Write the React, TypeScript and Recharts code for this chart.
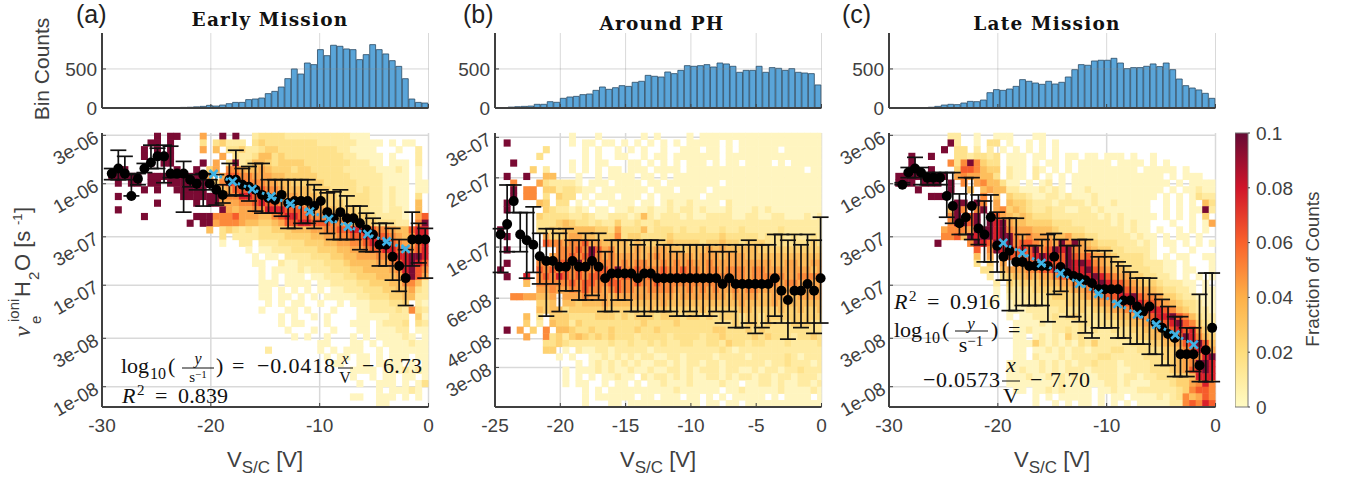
import { Bar, BarChart, CartesianGrid, ErrorBar, ReferenceLine, Scatter, ScatterChart, XAxis, YAxis } from 'recharts'

const AXIS = '#404040'
const GRID = '#d9d9d9'
const SANS = '"Liberation Sans", Arial, sans-serif'
const SERIF = '"Liberation Serif", serif'
const LEVEL_COLORS = ['#ffffff', '#fff5c0', '#ffeba2', '#fee28c', '#fed272', '#fdbf5d', '#fda84c', '#fc8a3a', '#f65c2b', '#d9202a', '#7a0a33']

const HIST_A = [0, 0, 0, 0, 0, 0, 0, 0, 0, 0, 2, 2, 8, 10, 15, 21, 34, 25, 38, 55, 72, 72, 107, 115, 128, 184, 213, 269, 376, 500, 435, 576, 555, 747, 670, 803, 790, 756, 747, 619, 683, 811, 747, 692, 606, 533, 375, 115, 72, 64]
const HIST_B = [2, 5, 12, 17, 21, 25, 47, 47, 81, 73, 124, 141, 149, 171, 179, 226, 269, 239, 260, 286, 277, 329, 342, 418, 406, 397, 461, 440, 482, 542, 534, 542, 555, 525, 576, 564, 534, 457, 482, 482, 534, 457, 517, 508, 482, 504, 457, 448, 440, 295]
const HIST_C = [0, 0, 0, 0, 0, 0, 10, 21, 38, 47, 43, 64, 85, 81, 102, 196, 235, 226, 243, 277, 363, 342, 320, 303, 342, 307, 329, 397, 491, 555, 547, 602, 611, 611, 636, 576, 504, 517, 517, 534, 564, 530, 576, 491, 371, 286, 256, 231, 188, 124]

const X_A = [-29.1, -28.5, -27.9, -27.3, -26.7, -26.1, -25.5, -24.9, -24.3, -23.7, -23.1, -22.5, -21.9, -21.3, -20.7, -20.1, -19.5, -18.9, -18.3, -17.7, -17.1, -16.5, -15.9, -15.3, -14.7, -14.1, -13.5, -12.9, -12.3, -11.7, -11.1, -10.5, -9.9, -9.3, -8.7, -8.1, -7.5, -6.9, -6.3, -5.7, -5.1, -4.5, -3.9, -3.3, -2.7, -2.1, -1.5, -0.9, -0.3]
const MID_A = [-5.9, -5.85, -5.9, -6.12, -5.95, -5.85, -5.79, -5.73, -5.73, -5.9, -5.9, -5.9, -5.96, -6, -5.91, -6, -6.06, -6.11, -5.96, -5.96, -6.01, -6.03, -6.06, -6.11, -6.14, -6.16, -6.11, -6.19, -6.17, -6.17, -6.17, -6.22, -6.17, -6.28, -6.34, -6.28, -6.34, -6.34, -6.39, -6.45, -6.5, -6.6, -6.6, -6.72, -6.81, -6.93, -6.55, -6.55, -6.55]
const HI_A = [-5.85, -5.67, -5.73, -5.91, -5.9, -5.8, -5.62, -5.65, -5.62, -5.63, -5.88, -5.78, -5.91, -5.96, -5.9, -5.96, -5.91, -6.01, -5.8, -5.67, -5.85, -5.83, -5.8, -5.8, -5.96, -5.96, -5.96, -5.96, -5.96, -5.96, -5.96, -6.01, -6.06, -6.09, -6.08, -6.06, -6.12, -6.22, -6.22, -6.29, -6.34, -6.39, -6.39, -6.44, -6.55, -6.65, -6.28, -6.39, -6.44]
const LO_A = [-5.96, -5.96, -5.96, -6.12, -6.01, -5.89, -5.85, -5.85, -5.99, -5.94, -5.93, -6.28, -6.03, -6.06, -6.22, -6.06, -6.21, -6.19, -6.12, -6.11, -6.12, -6.17, -6.27, -6.29, -6.29, -6.29, -6.32, -6.44, -6.44, -6.39, -6.39, -6.44, -6.37, -6.49, -6.55, -6.55, -6.55, -6.55, -6.65, -6.67, -6.67, -6.81, -6.81, -6.95, -7.06, -7.2, -6.81, -6.78, -6.93]

const X_B = [-24.57, -24.07, -23.57, -23.07, -22.57, -22.07, -21.57, -21.07, -20.57, -20.07, -19.57, -19.07, -18.57, -18.07, -17.57, -17.07, -16.57, -16.07, -15.57, -15.07, -14.57, -14.07, -13.57, -13.07, -12.57, -12.07, -11.57, -11.07, -10.57, -10.07, -9.57, -9.07, -8.57, -8.07, -7.57, -7.07, -6.57, -6.07, -5.57, -5.07, -4.57, -4.07, -3.57, -3.07, -2.57, -2.07, -1.57, -1.07, -0.57, -0.07]
const MID_B = [-6.945, -6.9, -6.8, -6.945, -6.97, -6.99, -7.04, -7.06, -7.06, -7.085, -7.085, -7.06, -7.085, -7.085, -7.06, -7.085, -7.135, -7.115, -7.115, -7.115, -7.115, -7.135, -7.115, -7.115, -7.135, -7.135, -7.135, -7.135, -7.135, -7.135, -7.135, -7.135, -7.135, -7.135, -7.16, -7.135, -7.16, -7.16, -7.16, -7.16, -7.16, -7.16, -7.135, -7.19, -7.23, -7.19, -7.19, -7.16, -7.19, -7.135]
const HI_B = [-6.92, -6.73, -6.73, -6.85, -6.85, -6.825, -6.94, -6.92, -6.92, -6.94, -6.92, -6.97, -6.97, -6.94, -6.97, -6.94, -7.02, -6.97, -6.97, -6.97, -6.97, -6.99, -6.97, -6.97, -6.97, -6.99, -6.99, -7.02, -6.99, -6.99, -6.99, -6.99, -6.99, -7.02, -6.99, -7.02, -6.99, -6.99, -6.97, -6.99, -6.99, -6.99, -6.945, -6.945, -6.97, -6.945, -6.99, -6.945, -6.97, -6.87]
const LO_B = [-7.11, -7.02, -6.85, -7.02, -7.135, -7.11, -7.16, -7.3, -7.16, -7.28, -7.19, -7.19, -7.23, -7.23, -7.21, -7.23, -7.28, -7.28, -7.23, -7.23, -7.28, -7.28, -7.3, -7.28, -7.28, -7.28, -7.28, -7.3, -7.3, -7.28, -7.3, -7.3, -7.3, -7.28, -7.33, -7.28, -7.35, -7.35, -7.33, -7.375, -7.35, -7.33, -7.3, -7.33, -7.4, -7.33, -7.35, -7.33, -7.375, -7.33]

const X_C = [-28.77, -28.22, -27.61, -27.06, -26.47, -25.92, -25.31, -24.69, -24.14, -23.53, -22.94, -22.39, -21.78, -21.23, -20.64, -20.06, -19.48, -18.93, -18.31, -17.73, -17.12, -16.56, -15.95, -15.4, -14.82, -14.23, -13.65, -13.04, -12.52, -11.96, -11.35, -10.74, -10.18, -9.57, -8.96, -8.44, -7.83, -7.21, -6.66, -6.07, -5.52, -4.91, -4.36, -3.74, -3.22, -2.64, -2.03, -1.47, -0.89, -0.31]
const MID_C = [-6.01, -5.89, -5.85, -5.89, -5.94, -5.94, -5.94, -6.12, -6.22, -6.39, -6.33, -6.22, -6.44, -6.5, -6.33, -6.61, -6.72, -6.66, -6.77, -6.77, -6.81, -6.81, -6.81, -6.81, -6.72, -6.82, -6.88, -6.91, -6.93, -6.95, -6.98, -7.04, -7.04, -7.04, -7.04, -7.15, -7.15, -7.21, -7.26, -7.21, -7.37, -7.42, -7.48, -7.52, -7.68, -7.68, -7.68, -7.79, -7.64, -7.42]
const HI_C = [-5.99, -5.84, -5.74, -5.84, -5.89, -5.89, -5.89, -5.89, -5.89, -6.1, -5.94, -5.94, -6.11, -6.17, -6.11, -6.28, -6.34, -6.34, -6.34, -6.5, -6.61, -6.61, -6.55, -6.5, -6.49, -6.55, -6.61, -6.61, -6.55, -6.55, -6.66, -6.72, -6.66, -6.72, -6.77, -6.81, -6.87, -6.93, -6.93, -6.93, -7.09, -7.14, -7.21, -7.31, -7.31, -7.42, -7.42, -7.09, -6.88, -6.88]
const LO_C = [-6.01, -5.94, -5.94, -6.01, -6.01, -6.01, -6.01, -6.33, -6.39, -6.5, -6.5, -6.55, -6.6, -6.77, -6.77, -6.87, -6.95, -7.25, -7.25, -7.2, -7.2, -7.2, -7.2, -7.36, -7.09, -7.06, -7.31, -7.31, -7.36, -7.47, -7.52, -7.42, -7.42, -7.42, -7.52, -7.52, -7.58, -7.58, -7.58, -7.68, -7.68, -7.79, -7.79, -7.9, -7.9, -7.9, -7.85, -7.95, -7.95, -7.95]

const FIT_X_A = [-19.75, -18, -16.2, -14.45, -12.7, -10.9, -9.15, -7.4, -5.6, -3.85, -2.1]
const FIT_Y_A = [-5.904, -5.978, -6.053, -6.126, -6.199, -6.274, -6.348, -6.421, -6.496, -6.569, -6.642]
const FIT_X_C = [-19.5, -17.75, -16, -14.25, -12.5, -10.75, -9, -7.2, -5.45, -3.7, -2]
const FIT_Y_C = [-6.583, -6.683, -6.783, -6.883, -6.984, -7.084, -7.184, -7.287, -7.388, -7.488, -7.585]

const TICKS_AC = [-5.523, -6, -6.523, -7, -7.523, -8]
const LABELS_AC = ['3e-06', '1e-06', '3e-07', '1e-07', '3e-08', '1e-08']
const TICKS_B = [-6.523, -6.699, -7, -7.222, -7.398, -7.523]
const LABELS_B = ['3e-07', '2e-07', '1e-07', '6e-08', '4e-08', '3e-08']
const XTICKS_AC = [-30, -20, -10, 0]
const XTICKS_B = [-25, -20, -15, -10, -5, 0]
const CB_TICKS = [0, 0.02, 0.04, 0.06, 0.08, 0.1]

// heat cells, top row first, '.' empty, 1-9 and a = fraction in hundredths
const HEAT_A = [
  '........a. aa...6..a. a..2333322 2222222211 1.........',
  '.......aa. a....3.342 22.3433333 3332222221 111.1.11..',
  '......a.a. a....6.5.3 3422344333 3333332211 11...1..2.',
  '......a..a a.......6. 3223553433 3333333221 111.1...2.',
  '.......a.a a....a.6.3 a235543444 4333333322 211.111.2.',
  '...a...... .a..a.46.7 7655654443 4433333222 2211121.1.',
  '.aaaaa.aaa aaaaaa6.68 8776665544 4443333322 2221111.1.',
  '..a.aa.aa. aaaaaa.479 8877766554 4444333332 2221111.11',
  '......a.a. .aaaaa.a56 8888877655 5544433332 3221211.11',
  '..a....... ..aaaaaa67 7998887666 5554443333 3221211.3.',
  '........a. ....a.aa66 6778988777 6655444333 3221211.5.',
  '..a....... ........a6 5667799988 8766554443 3221221.5.',
  '......a... ....aaa777 8666557899 8877765544 4322221.68',
  '.......... ...a.aa677 7655445688 9988877654 4433322.7a',
  '.......... ......5.34 3232334445 5566778899 9877655899',
  '.......... ........3. 2222333344 4455667788 9988765799',
  '.......... ........1. .22.222333 3444556677 8998876689',
  '.......... .......... ..1.112223 3334445566 7889988789',
  '.......... .......... ...1.11.22 2233344556 6677899aa9',
  '.......... .......... ...11..211 2222333455 5566789a98',
  '.......... .......... ....1.1111 2122233344 5555679a87',
  '.......... .......... ....1.1.11 1.11222334 4455568a86',
  '.......... .......... ....111.11 11.1122223 3444557752',
  '.......... .......... ....11.1.1 .1.1.11222 3334455632',
  '.......... .......... ....11.11. 1.1.111112 2333445522',
  '.......... .......... .....1.1.1 1..1..1.11 1222334.21',
  '.......... .......... ....1...11 .1...1...1 1222232732',
  '.......... .......... .......1.1 ..1.1....1 1111222.41',
  '.......... .......... .......1.1 1...1...11 1.12223.32',
  '.......... .......... ........1. ..1..1...1 1.11122.11',
  '.......... .......... .........1 .1..1...1. 1.111121.1',
  '.......... .......... .......... ...11...11 .1.1111211',
  '.......... .......... .....2.... ...1.1.111 ..1.111111',
  '.......... .......... .......... ....1.11.1 1.1.111.11',
  '.......... .......... .......... .....11..1 1.1111.1.1',
  '.......... .......... .......... ........11 11.1112121',
  '.......... .......... .......... ........1. .1.11.11.1',
  '.......... .......... .......... .........1 ..111.1.13',
  '.......... .......... .......... .......... ..1.11121.',
  '.......... .......... .......... ........11 ..111.1.1.',
  '.......... .......... .......... .......... ..11......',
]

const HEAT_B = [
  '.......... .1...1.... ..1.1....1 .111111111 1111111111',
  '.a........ .1.11.11.1 .1.1.1.1.1 1111.1.111 1111111111',
  '.......3.. ...1.1..1. 1.1..1..11 1.11.1.111 111.111111',
  '......3... ...1.1..11 ..1.11.111 1111.11111 1111111111',
  '..a....... .1.1.11... 11.1.1.1.1 11.1.11.11 11.1.11111',
  '.....4.2.. .1.1.1.11. 111.1111.1 1111111111 1111111.11',
  '.a..a..55. ..1..1.111 1.11.1.111 1111111111 1111111111',
  '..7...6322 221.111.11 11.11.1111 1111.11111 1111111111',
  '..a.77.442 33211.1111 111.111.11 11.1111111 1111111111',
  '..a.77.3.4 33.1.111.1 11.1.11111 1.11111111 1111111111',
  '.a....54.3 3.1.1..111 1.11.12112 1111.21111 1111111111',
  '.a.....432 2121.11.11 2112112122 1211121112 1211111111',
  '......4333 3223211222 1252122212 1122221122 1122111212',
  '......3334 5433232242 2322322222 2222222222 2222222222',
  'a.....3344 5555544363 3352333232 2322322322 2223222222',
  '.a.....644 5665544473 4433334333 3333433333 2333232232',
  '.......877 6778665555 4544445444 4344544344 4333333343',
  '.a.......7 7787a86755 5655665545 5565655555 4444444444',
  '......6.67 7878a76766 6656766666 5666566655 5555555555',
  '.a....7768 87a7777767 6776676767 6676666666 6655665566',
  'a.....8787 87877887a7 7877787787 7677677767 7666666656',
  '.a..9.7879 8787887878 8778887878 7777777767 7777667777',
  '....5.7777 7878877887 7877877777 7777677777 6776776666',
  '......6676 6778776787 7667777667 6767667677 6666667666',
  '..7766556. 6667666566 6666666566 6666656666 5566656666',
  '......445. 5545556555 5555565555 5555555655 5565555555',
  '......5455 3444445444 4445454444 4544444554 4445445445',
  '....5.3.44 4333344434 3444344434 4343444344 3444444444',
  '....4.2.54 4243333333 3343333433 3333334344 3433344433',
  '.a.6.4.7.5 5433433433 3433433333 3334433343 4333333333',
  '....6..734 2454343433 3233332333 3233433334 3433323343',
  '.......334 3222222322 3223232233 2233243323 3222322223',
  '.......44. 1.21122122 2221222222 2222321222 2222222222',
  '.........1 .1..112121 2122112212 2221222212 2222321222',
  '.......... ..1.121212 1211221212 2122122222 2122322212',
  '.......... 1.11121211 2112112212 1222122112 1221223222',
  '.......... 1.1.1.1121 1.21221212 1122121221 2212212221',
  '.......... 1.11..1.11 .1.1121112 1111211.11 2212112212',
  '.......... ...1.1.111 1111111211 1111.11211 1112111121',
  '.......... ...1.11111 1.11.111.1 1.1.1.1111 1.1.1111.1',
  '.......... ...1...11. 1111111111 1.11.11.11 1111111111',
]

const HEAT_C = [
  '.........2 2..1..111. ..11...... .......... ..........',
  '.........a 2..1.33.1. .1.1.1.... .......... ..........',
  '........a. 33.2.2.1.1 .1.1.1.... .......... ..........',
  '...a..a... 3323323.11 1.11.1.11. 11.111.1.. 1.........',
  '...a.....7 37a7433.11 1.1.11.1.1 1111.1111. 1.1.......',
  '...a..a... 4887544.21 1.21.1.1.1 11111111.1 1111.1....',
  '.aaaaaaaa. 6766553.21 1.2.1.1.11 1111111111 11.1.111..',
  '.aaa.aaa.a .7.6755311 .1.12.1.11 1111111111 111.1.1111',
  '....a....a ..5.565522 1112121.11 2111111111 11.1.11211',
  '......aaa. ....7.5.43 3211221211 1211111111 1.1.1.1322',
  '.......... aa.a7.6.54 4322212222 1211211111 ..1.1.1.53',
  '.........5 a7.7a.6745 4322322112 2121111111 ..1.1.11a2',
  '.........7 a.8a.a8654 5433322222 2212121111 1.1.1.1.4.',
  '.........7 aa8a.a9a65 5444433322 2222121211 ...1..1.16',
  '........67 776aaa9a76 6655543333 2222221211 .1..1.1.1.',
  '........77 85a9aa9aa7 6766655644 3322222121 1.1.11.1..',
  '.......a.. ..7a98a9a7 887676a7a6 5433322212 1.11.1.1.1',
  '.......... ...8.7a9a8 98a78a9a76 6544332222 1..1..1...',
  '.......... ...5.6.788 889a998a87 8665433332 1.1.11..11',
  '.......... ...3.4.6.8 6889988a9a 9765443332 2211.1...1',
  '.......... ....33.566 6778898a99 a876554333 2211.11..1',
  '.......... .....2.345 5656678889 9a98766443 3221.1.1.1',
  '.......... ......2.43 4445556677 89a9887654 4322211.1.',
  '.......... ......1.32 3344445566 78889a8766 5433221.11',
  '.......... ......1.22 2333344445 6678899a87 7644322111',
  '.......... .....1..12 2232333444 4566788998 8765433211',
  '.......... ........11 1222223334 3445667889 9987543221',
  '.......... ........1. 1122232343 3334455677 899a875322',
  '.......... .........1 1112122223 3233344556 7889a87432',
  '.......... .........1 1211122323 2322333445 5678989643',
  '.......... .........1 1.12121423 2222233344 55678a9754',
  '.......... .........1 1142121213 2422222333 4455689a85',
  '.......... .........1 1.11212122 1222332233 33445789a6',
  '.......... .........1 1.21112122 2233222223 334456779a',
  '.......... ........11 1112121212 2322212222 3334567aa9',
  '.......... ........11 2112121222 1222211222 33345689a9',
  '.......... ........11 1211212121 1122212212 2333445999',
  '.......... ........11 1111112111 1112212111 2223446797',
  '.......... .........1 1.11212111 1.11211122 2222347887',
  '.......... .......... ..1.1.1111 1.1.11.111 1212375687',
  '.......... .......... ..1..1.1.1 1.1.1.1.11 1112278798',
]

const PLOT_RIGHT = 396.5

const buildCells = (rows: string[], x0: number, dx: number, top: number, bottom: number) =>
  rows.flatMap((row, r) =>
    [...row.replace(/ /g, '')].flatMap((ch, c) =>
      ch === '.' ? [] : [{ x: x0 + dx * c, y: top - ((r + 0.5) * (top - bottom)) / rows.length, level: ch === 'a' ? 10 : Number(ch) }],
    ),
  )

const buildPoints = (xs: number[], mids: number[], his: number[], los: number[]) =>
  xs.map((x, i) => ({ x, y: mids[i], err: [mids[i] - los[i], his[i] - mids[i]] }))

const HeatCell = (props: any) => (
  <rect x={props.cx - 3.5} y={props.cy - 3.6} width={Math.max(0, Math.min(7, PLOT_RIGHT - props.cx + 3.5))} height={7.2} fill={LEVEL_COLORS[props.payload.level]} />
)
const Dot = (props: any) => <circle cx={props.cx} cy={props.cy} r={5} fill="#000" />
const Cross = (props: any) => (
  <path
    d={`M${props.cx - 4} ${props.cy - 4}L${props.cx + 4} ${props.cy + 4}M${props.cx - 4} ${props.cy + 4}L${props.cx + 4} ${props.cy - 4}`}
    stroke="#3fb3e6"
    strokeWidth={2.6}
    fill="none"
  />
)

function Hist({ left, data, x0, dx, domain, ticks }: any) {
  const rows = data.map((v: number, i: number) => ({ x: x0 + dx * i, v }))
  return (
    <div style={{ position: 'absolute', left: left - 70, top: 28 }}>
      <BarChart width={326.5 + 80} height={90} data={rows} margin={{ top: 5, right: 10, bottom: 0, left: 0 }}>
        <CartesianGrid stroke={GRID} horizontal={false} />
        <XAxis dataKey="x" type="number" domain={domain} ticks={ticks} interval={0} height={10} tickSize={-4} tickFormatter={() => ''} axisLine={{ stroke: AXIS, strokeWidth: 2 }} tickLine={{ stroke: AXIS }} />
        <YAxis type="number" domain={[0, 960]} ticks={[0, 500]} interval={0} width={70} tickSize={-4} tickMargin={9} axisLine={{ stroke: AXIS, strokeWidth: 2 }} tickLine={{ stroke: AXIS }} tick={{ fontSize: 19, fill: AXIS, fontFamily: SANS }} />
        <ReferenceLine y={500} stroke="#8a8a8a" strokeOpacity={0.35} />
        <Bar dataKey="v" barSize={6.53} fill="#5aa5d9" stroke="#2b4a63" strokeWidth={0.8} isAnimationActive={false} />
      </BarChart>
    </div>
  )
}

function Panel({ left, cells, points, fit, xDomain, xTicks, yDomain, yTicks, yLabels }: any) {
  const YTick = ({ x, y, payload }: any) => {
    const label = yLabels[yTicks.indexOf(payload.value)]
    return (
      <text x={x + 3} y={y + 6} textAnchor="end" transform={`rotate(-30 ${x + 3} ${y + 6})`} fontSize={19} fill={AXIS} fontFamily={SANS}>
        {label}
      </text>
    )
  }
  return (
    <div style={{ position: 'absolute', left: left - 70, top: 128 }}>
      <ScatterChart width={326.5 + 80} height={319} margin={{ top: 5, right: 10, bottom: 0, left: 0 }}>
        <CartesianGrid stroke={GRID} strokeWidth={1.5} syncWithTicks />
        <XAxis dataKey="x" type="number" domain={xDomain} ticks={xTicks} interval={0} height={40} tickSize={-4} tickMargin={16} axisLine={{ stroke: AXIS, strokeWidth: 2 }} tickLine={{ stroke: AXIS }} tick={{ fontSize: 19, fill: AXIS, fontFamily: SANS }} />
        <YAxis dataKey="y" type="number" domain={yDomain} ticks={yTicks} interval={0} width={70} tickSize={-4} tickMargin={9} axisLine={{ stroke: AXIS, strokeWidth: 2 }} tickLine={{ stroke: AXIS }} tick={YTick} />
        <Scatter data={cells} shape={HeatCell} zIndex={100} isAnimationActive={false} />
        <Scatter data={points} shape={Dot} zIndex={640} isAnimationActive={false}>
          <ErrorBar dataKey="err" direction="y" width={8} stroke="#111" strokeWidth={1.7} zIndex={630} isAnimationActive={false} />
        </Scatter>
        {fit && (
          <Scatter data={fit} shape={Cross} zIndex={700} line={{ stroke: '#3fb3e6', strokeWidth: 3, strokeDasharray: '2.5 4' }} isAnimationActive={false} />
        )}
      </ScatterChart>
    </div>
  )
}

function ColorBar() {
  return (
    <div style={{ position: 'absolute', left: 1235, top: 118 }}>
      <BarChart width={90} height={302} data={[{ name: 'scale', v: 0.1 }]} barCategoryGap={0} margin={{ top: 15, right: 0, bottom: 13, left: 0 }}>
        <defs>
          <linearGradient id="cbar" x1="0" y1="1" x2="0" y2="0">
            <stop offset="0" stopColor="#fffbc4" />
            <stop offset="0.2" stopColor="#fedd7c" />
            <stop offset="0.4" stopColor="#fdb048" />
            <stop offset="0.6" stopColor="#f9622c" />
            <stop offset="0.8" stopColor="#d0152a" />
            <stop offset="1" stopColor="#660a35" />
          </linearGradient>
        </defs>
        <XAxis dataKey="name" hide />
        <YAxis orientation="right" type="number" domain={[0, 0.1]} ticks={CB_TICKS} interval={0} width={77} axisLine={false} tickSize={2} tickMargin={6} tickLine={{ stroke: AXIS }} tick={{ fontSize: 19, fill: AXIS, fontFamily: SANS, textAnchor: 'start' }} />
        <Bar dataKey="v" fill="url(#cbar)" stroke="#777" strokeWidth={1} isAnimationActive={false} />
      </BarChart>
    </div>
  )
}

const Sans = ({ children, ...p }: any) => (
  <text fontFamily={SANS} fill={AXIS} {...p}>
    {children}
  </text>
)
const Math_ = ({ children, ...p }: any) => (
  <text fontFamily={SERIF} fill="#111" fontSize={22} {...p}>
    {children}
  </text>
)

function XLabel({ cx }: { cx: number }) {
  return (
    <Sans x={cx - 38} y={467} fontSize={22}>
      V
      <tspan fontSize={17} dy={6}>S/C</tspan>
      <tspan dy={-6}> [V]</tspan>
    </Sans>
  )
}

function Overlay() {
  const title = { fontFamily: '"DejaVu Serif", serif', fontWeight: 700, fontSize: 18.5, fill: '#111', textAnchor: 'middle', letterSpacing: 1.2 } as any
  return (
    <svg width={1347} height={481} style={{ position: 'absolute', left: 0, top: 0, pointerEvents: 'none' }}>
      <Sans x={76} y={23} fontSize={25} fill="#222">(a)</Sans>
      <Sans x={463} y={23} fontSize={25} fill="#222">(b)</Sans>
      <Sans x={842} y={23} fontSize={25} fill="#222">(c)</Sans>
      <text x={270} y={26} {...title}>Early Mission</text>
      <text x={662} y={30} {...title}>Around PH</text>
      <text x={1047} y={30} {...title}>Late Mission</text>

      <Sans x={49} y={69} fontSize={21} textAnchor="middle" transform="rotate(-90 49 69)">Bin Counts</Sans>
      <Sans x={1319} y={269} fontSize={19} textAnchor="middle" transform="rotate(-90 1319 269)">Fraction of Counts</Sans>

      <g transform="translate(30 337) rotate(-90)">
        <text x={0} y={0} fontFamily={SERIF} fontStyle="italic" fontSize={24} fill={AXIS}>ν</text>
        <Sans x={13} y={11} fontSize={15}>e</Sans>
        <Sans x={15} y={-11} fontSize={15}>ioni</Sans>
        <Sans x={40} y={0} fontSize={22}>H</Sans>
        <Sans x={57} y={9} fontSize={15}>2</Sans>
        <Sans x={66} y={0} fontSize={22}>O [s</Sans>
        <Sans x={112} y={-8} fontSize={13}>-1</Sans>
        <Sans x={124} y={0} fontSize={22}>]</Sans>
      </g>

      <XLabel cx={265} />
      <XLabel cx={658} />
      <XLabel cx={1052} />

      {/* fit text, panel a */}
      <Math_ x={121} y={373}>log</Math_>
      <Math_ x={150} y={379} fontSize={16}>10</Math_>
      <Math_ x={168} y={373}>(</Math_>
      <Math_ x={198} y={364} fontSize={16} fontStyle="italic" textAnchor="middle">y</Math_>
      <line x1={182} x2={214} y1={368} y2={368} stroke="#111" />
      <Math_ x={198} y={382} fontSize={15} textAnchor="middle">s<tspan dy={-4} fontSize={11}>−1</tspan></Math_>
      <Math_ x={216} y={373}>)</Math_>
      <Math_ x={232} y={373}>=</Math_>
      <Math_ x={257} y={373} textLength={78}>−0.0418</Math_>
      <Math_ x={345} y={364} fontSize={16} fontStyle="italic" textAnchor="middle">x</Math_>
      <line x1={338} x2={353} y1={368} y2={368} stroke="#111" />
      <Math_ x={345} y={383} fontSize={16} textAnchor="middle">V</Math_>
      <Math_ x={362} y={373}>−</Math_>
      <Math_ x={383} y={373} textLength={39}>6.73</Math_>
      <Math_ x={122} y={403} fontStyle="italic">R</Math_>
      <Math_ x={137} y={395} fontSize={15}>2</Math_>
      <Math_ x={155} y={403}>=</Math_>
      <Math_ x={178} y={403} textLength={50}>0.839</Math_>

      {/* fit text, panel c */}
      <Math_ x={894} y={309} fontStyle="italic">R</Math_>
      <Math_ x={909} y={301} fontSize={15}>2</Math_>
      <Math_ x={927} y={309}>=</Math_>
      <Math_ x={950} y={309} textLength={50}>0.916</Math_>
      <Math_ x={894} y={337}>log</Math_>
      <Math_ x={924} y={343} fontSize={16}>10</Math_>
      <Math_ x={942} y={337}>(</Math_>
      <Math_ x={971} y={329} fontSize={17} fontStyle="italic" textAnchor="middle">y</Math_>
      <line x1={955} x2={988} y1={331} y2={331} stroke="#111" />
      <Math_ x={971} y={352} textAnchor="middle">s<tspan dy={-6} fontSize={15}>−1</tspan></Math_>
      <Math_ x={991} y={337}>)</Math_>
      <Math_ x={1008} y={337}>=</Math_>
      <Math_ x={923} y={387} textLength={77}>−0.0573</Math_>
      <Math_ x={1011} y={372} fontStyle="italic" textAnchor="middle">x</Math_>
      <line x1={1002} x2={1020} y1={381} y2={381} stroke="#111" />
      <Math_ x={1011} y={403} textAnchor="middle">V</Math_>
      <Math_ x={1030} y={387}>−</Math_>
      <Math_ x={1050} y={387} textLength={40}>7.70</Math_>
    </svg>
  )
}

export default function App() {
  return (
    <div style={{ position: 'absolute', left: 0, top: 0, width: 1347, height: 481, background: '#fff', overflow: 'hidden' }}>
      <Hist left={101.5} data={HIST_A} x0={-29.7} dx={0.6} domain={[-30, 0]} ticks={XTICKS_AC} />
      <Hist left={495} data={HIST_B} x0={-24.75} dx={0.5} domain={[-25, 0]} ticks={XTICKS_B} />
      <Hist left={888.5} data={HIST_C} x0={-29.7} dx={0.6} domain={[-30, 0]} ticks={XTICKS_AC} />
      <Panel
        left={101.5}
        cells={buildCells(HEAT_A, -29.7, 0.6, -5.5, -8.2)}
        points={buildPoints(X_A, MID_A, HI_A, LO_A)}
        fit={FIT_X_A.map((x, i) => ({ x, y: FIT_Y_A[i] }))}
        xDomain={[-30, 0]}
        xTicks={XTICKS_AC}
        yDomain={[-8.2, -5.5]}
        yTicks={TICKS_AC}
        yLabels={LABELS_AC}
      />
      <Panel
        left={495}
        cells={buildCells(HEAT_B, -24.57, 0.5, -6.504, -7.695)}
        points={buildPoints(X_B, MID_B, HI_B, LO_B)}
        xDomain={[-25, 0]}
        xTicks={XTICKS_B}
        yDomain={[-7.695, -6.504]}
        yTicks={TICKS_B}
        yLabels={LABELS_B}
      />
      <Panel
        left={888.5}
        cells={buildCells(HEAT_C, -29.7, 0.6, -5.5, -8.2)}
        points={buildPoints(X_C, MID_C, HI_C, LO_C)}
        fit={FIT_X_C.map((x, i) => ({ x, y: FIT_Y_C[i] }))}
        xDomain={[-30, 0]}
        xTicks={XTICKS_AC}
        yDomain={[-8.2, -5.5]}
        yTicks={TICKS_AC}
        yLabels={LABELS_AC}
      />
      <ColorBar />
      <Overlay />
    </div>
  )
}
